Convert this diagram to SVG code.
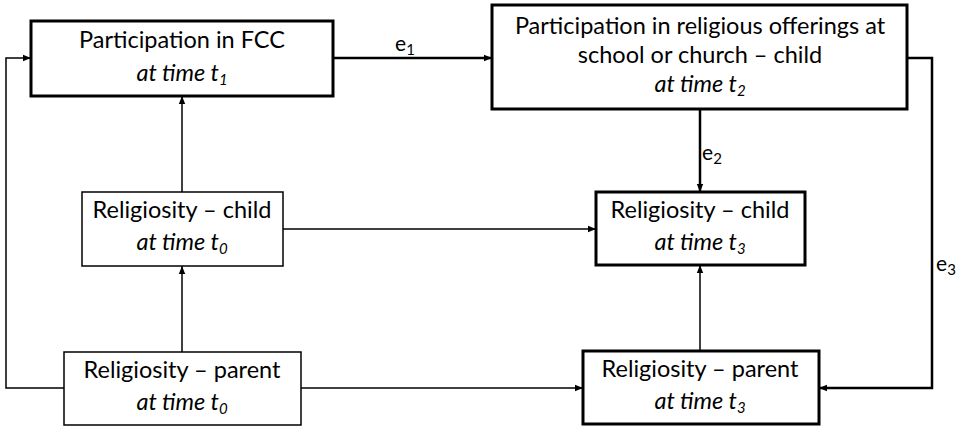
<svg xmlns="http://www.w3.org/2000/svg" width="966" height="426" viewBox="0 0 966 426">
<defs>
<marker id="ah" viewBox="0 0 10 10" refX="10" refY="5" markerWidth="8" markerHeight="8" markerUnits="userSpaceOnUse" orient="auto"><path d="M0,1 L10,5 L0,9 z" fill="#000"/></marker>
</defs>
<style>
text{font-family:Lato,"Liberation Sans",sans-serif;font-size:23.5px;fill:#000;text-anchor:middle}
.it{font-style:italic}
.sub{font-size:15px}
.lbl{font-size:21px}
.thick{fill:#fff;stroke:#000;stroke-width:3}
.thin{fill:#fff;stroke:#000;stroke-width:1.5}
.c{fill:none;stroke:#000;marker-end:url(#ah)}
.cb{stroke-width:2.5}
.cn{stroke-width:1.5}
</style>
<rect width="966" height="426" fill="#fff"/>
<g id="connectors">
<path class="c cn" d="M64,388 H6 V58 H31"/>
<path class="c cb" d="M333,58 H492"/>
<path class="c cn" d="M182,192 V96"/>
<path class="c cn" d="M182,352 V266"/>
<path class="c cn" d="M283,229 H596"/>
<path class="c cn" d="M301,388 H583"/>
<path class="c cb" d="M700,109 V192"/>
<path class="c cn" d="M700,351 V265"/>
<path class="c cb" d="M907,58 H932 V388 H819"/>
<text class="lbl" x="405" y="51">e<tspan class="sub" dy="4">1</tspan></text>
<text class="lbl" x="712" y="160">e<tspan class="sub" dy="4">2</tspan></text>
<text class="lbl" x="946" y="271">e<tspan class="sub" dy="4">3</tspan></text>
</g>
<g id="fcc">
<rect class="thick" x="31" y="21" width="302" height="75"/>
<text x="182" y="48">Participation in FCC</text>
<text x="182" y="81" class="it">at time t<tspan class="sub" dy="4">1</tspan></text>
</g>
<g id="offerings">
<rect class="thick" x="492" y="5" width="415" height="104"/>
<text x="700" y="34">Participation in religious offerings at</text>
<text x="700" y="63">school or church – child</text>
<text x="700" y="92" class="it">at time t<tspan class="sub" dy="4">2</tspan></text>
</g>
<g id="child-t0">
<rect class="thin" x="82" y="192" width="201" height="74"/>
<text x="182" y="218">Religiosity – child</text>
<text x="182" y="250" class="it">at time t<tspan class="sub" dy="4">0</tspan></text>
</g>
<g id="parent-t0">
<rect class="thin" x="64" y="352" width="237" height="73"/>
<text x="182" y="378">Religiosity – parent</text>
<text x="182" y="410" class="it">at time t<tspan class="sub" dy="4">0</tspan></text>
</g>
<g id="child-t3">
<rect class="thick" x="596" y="192" width="209" height="73"/>
<text x="700" y="218">Religiosity – child</text>
<text x="700" y="250" class="it">at time t<tspan class="sub" dy="4">3</tspan></text>
</g>
<g id="parent-t3">
<rect class="thick" x="583" y="351" width="236" height="73"/>
<text x="700" y="377">Religiosity – parent</text>
<text x="700" y="409" class="it">at time t<tspan class="sub" dy="4">3</tspan></text>
</g>
</svg>
